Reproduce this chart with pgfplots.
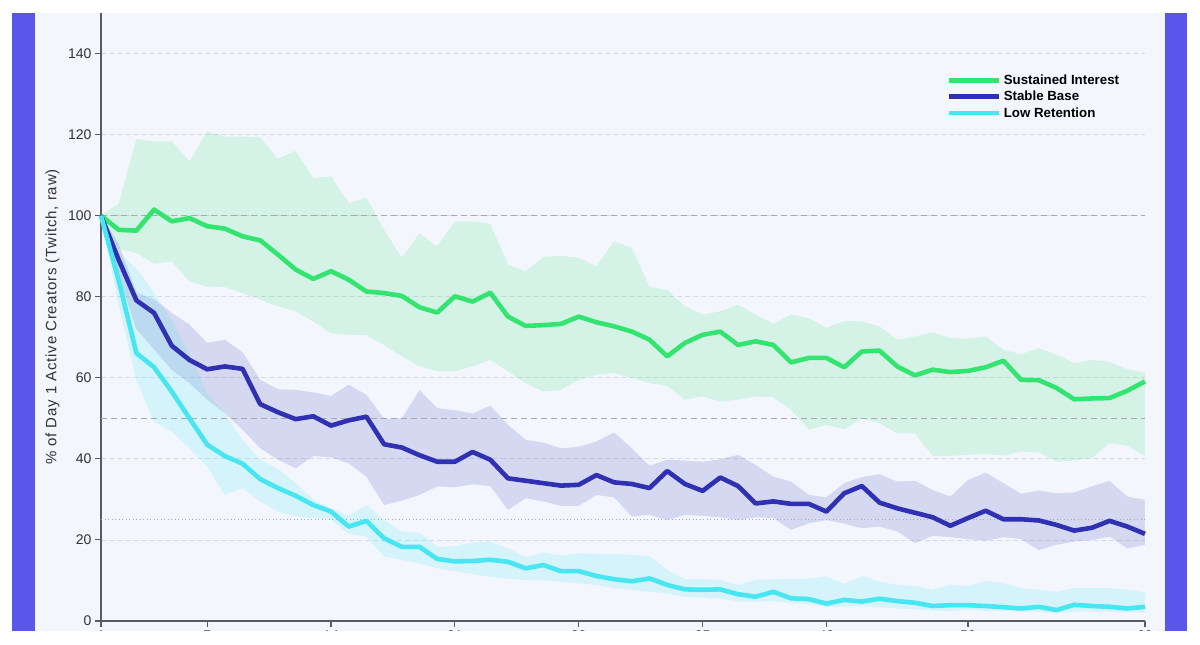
\documentclass[border=0pt]{standalone}
\usepackage{fontspec}
\setmainfont{Liberation Sans}
\usepackage{pgfplots}
\usepackage{pgfplotstable}
\pgfplotsset{compat=1.18}
\usepgfplotslibrary{fillbetween}

\definecolor{sideband}{RGB}{88,86,235}
\definecolor{plotbg}{RGB}{243,246,253}
\definecolor{sustained}{RGB}{52,228,112}
\definecolor{stable}{RGB}{48,48,178}
\definecolor{lowret}{RGB}{72,230,240}
\definecolor{gridc}{RGB}{214,218,230}
\definecolor{refc}{RGB}{168,170,178}
\definecolor{axisc}{RGB}{90,90,96}
\definecolor{labelc}{RGB}{50,50,56}

% day, then mean / upper / lower for each cohort (g = sustained, b = stable, c = low retention)
\pgfplotstableread{
d  gm    gu    gl    bm    bu    bl    cm    cu    cl
1  100   100   100   100   100   100   100   100   100
2  96.5  103.0 91.8  89.1  93.0  85.0  84.0  91.0  78.0
3  96.3  118.9 90.8  79.1  81.0  72.0  66.1  87.0  59.5
4  101.5 118.3 88.1  76.0  79.4  67.0  62.6  81.0  49.2
5  98.6  118.3 88.7  67.9  76.0  62.0  56.6  74.0  46.7
6  99.4  113.4 83.8  64.4  73.1  58.7  50.0  66.0  42.6
7  97.4  120.8 82.5  62.1  68.6  54.6  43.5  56.0  38.1
8  96.8  119.5 82.4  62.8  69.4  51.3  40.7  51.3  31.1
9  94.9  119.5 80.9  62.2  66.3  47.2  38.8  44.7  32.8
10 93.9  119.3 79.3  53.5  59.5  42.6  35.0  39.8  29.5
11 90.4  114.0 77.6  51.5  57.2  39.8  32.8  37.5  27.0
12 86.7  116.0 76.4  49.8  57.0  37.7  30.9  34.0  25.8
13 84.4  109.3 73.9  50.5  56.4  40.7  28.6  29.9  25.4
14 86.3  109.7 71.0  48.2  55.5  40.4  27.0  27.8  25.0
15 84.2  103.1 70.6  49.5  58.3  38.9  23.3  25.9  21.5
16 81.3  104.4 70.5  50.4  55.8  35.6  24.7  28.6  20.8
17 80.9  96.5  68.1  43.6  49.9  28.6  20.4  24.9  15.9
18 80.2  89.6  65.3  42.8  50.0  29.7  18.3  22.1  15.1
19 77.4  95.6  62.8  40.9  57.0  31.1  18.3  21.7  14.2
20 76.1  92.4  61.6  39.3  52.5  33.2  15.3  18.3  13.0
21 80.1  98.6  61.6  39.3  52.0  33.0  14.7  18.4  12.3
22 78.8  98.6  62.8  41.7  51.2  33.7  14.8  19.4  11.6
23 81.0  98.0  64.4  39.8  53.1  33.3  15.1  19.6  10.9
24 75.1  87.9  61.6  35.2  48.4  27.4  14.6  17.9  10.5
25 72.8  86.3  58.7  34.6  44.7  30.3  13.0  15.7  10.1
26 73.0  89.8  56.6  34.0  44.0  29.5  13.8  16.9  10.0
27 73.3  90.1  57.0  33.4  42.6  28.4  12.3  16.1  9.7
28 75.1  89.6  59.5  33.6  43.0  28.4  12.3  16.7  9.3
29 73.7  87.5  60.7  36.0  44.3  31.1  11.1  16.5  8.9
30 72.7  93.7  61.2  34.2  46.5  30.5  10.3  16.5  8.1
31 71.4  92.0  59.9  33.8  42.6  25.8  9.8   16.3  7.7
32 69.4  82.4  58.7  32.8  38.3  26.2  10.5  16.0  7.2
33 65.3  81.7  58.0  37.0  39.8  24.9  8.9   12.6  6.8
34 68.6  77.6  54.6  33.8  39.6  26.2  7.8   10.3  6.0
35 70.6  75.6  55.4  32.1  39.3  25.9  7.7   10.3  5.8
36 71.4  76.4  54.1  35.4  39.9  25.6  7.8   10.1  5.6
37 68.1  78.0  54.6  33.3  41.0  24.9  6.6   8.9   4.8
38 69.0  75.6  55.4  29.0  38.5  25.6  6.0   10.1  4.8
39 68.1  73.3  55.2  29.5  35.6  25.4  7.2   10.3  4.9
40 63.8  75.6  52.1  28.9  34.4  22.5  5.6   10.4  4.4
41 64.9  74.7  47.2  28.9  31.1  24.1  5.4   10.4  4.2
42 64.9  72.3  48.4  27.0  30.5  24.9  4.3   11.0  3.5
43 62.6  74.0  47.3  31.5  34.0  24.0  5.2   9.1   3.5
44 66.5  73.9  50.0  33.3  35.5  22.9  4.8   11.1  3.7
45 66.7  72.7  48.8  29.2  36.2  23.3  5.5   9.7   3.4
46 62.8  69.4  46.3  27.8  34.4  22.1  4.9   8.9   3.1
47 60.6  70.2  46.3  26.7  34.6  19.2  4.5   8.6   2.9
48 62.0  71.2  40.7  25.6  32.3  21.0  3.7   7.7   2.5
49 61.4  69.8  40.7  23.5  30.7  20.7  3.9   8.9   2.5
50 61.7  69.6  41.0  25.4  34.8  20.2  3.9   8.6   2.7
51 62.6  70.2  41.2  27.2  36.6  19.8  3.7   9.9   2.5
52 64.2  66.9  40.8  25.1  34.0  20.7  3.4   9.3   2.5
53 59.5  65.8  41.8  25.1  31.4  20.2  3.1   8.1   2.3
54 59.4  67.3  41.6  24.8  32.2  17.5  3.5   7.7   2.3
55 57.5  65.7  39.3  23.7  31.5  18.8  2.7   7.2   1.9
56 54.7  63.6  39.6  22.3  31.7  19.6  4.0   8.1   2.3
57 54.9  64.4  40.2  23.0  33.2  20.0  3.7   8.1   2.3
58 55.0  63.9  43.9  24.7  34.6  20.8  3.5   8.1   2.3
59 56.8  62.1  43.2  23.3  30.7  17.9  3.1   7.7   2.1
60 59.1  61.3  40.7  21.5  29.9  18.8  3.5   7.1   2.1
}\retention

\begin{document}
\begin{tikzpicture}
\begin{axis}[
  at={(101pt,24pt)}, anchor=south west,
  scale only axis, width=1044pt, height=608pt,
  xmin=1, xmax=60, ymin=0, ymax=150,
  clip=false,
  axis x line*=bottom, axis y line*=left,
  axis line style={-, draw=axisc, line width=1.1pt},
  xtick={1,7,14,21,28,35,42,50,60},
  ytick={0,20,...,140},
  tick align=outside, major tick length=6pt,
  tick style={draw=axisc, line width=1.1pt},
  /pgf/number format/assume math mode=true,
  ticklabel style={font=\fontsize{14}{14}\selectfont, text=labelc},
  ymajorgrids,
  grid style={draw=gridc, line width=0.8pt, dash pattern=on 5pt off 3pt},
  ylabel={\addfontfeatures{LetterSpace=5.5}\% of Day 1 Active Creators (Twitch, raw)},
  ylabel style={font=\fontsize{15}{15}\selectfont, text=labelc,
    at={(axis description cs:-0.0465,0.5)}, anchor=center, rotate=0},
  legend style={at={(axis description cs:0.8075,0.9055)}, anchor=north west,
    draw=none, fill=none, font=\bfseries\fontsize{13.3}{13.3}\selectfont,
    text=black, row sep=1.3pt},
  legend cell align=left,
  legend image code/.code={\path (0pt,0pt) -- (50pt,0pt);
    \draw[#1] (0pt,0pt) -- (42pt,0pt);},
]
% page, panel and side stripes, kept beneath the grid
\addplot[fill=white, draw=none, on layer=axis background, forget plot]
  coordinates {(-4.708,-5.921) (63.108,-5.921) (63.108,153.21) (-4.708,153.21)} -- cycle;
\addplot[fill=plotbg, draw=none, on layer=axis background, forget plot]
  coordinates {(-2.730,-2.467) (61.130,-2.467) (61.130,150) (-2.730,150)} -- cycle;
\addplot[fill=sideband, draw=none, on layer=axis background, forget plot]
  coordinates {(-4.030,-2.467) (-2.730,-2.467) (-2.730,150) (-4.030,150)} -- cycle;
\addplot[fill=sideband, draw=none, on layer=axis background, forget plot]
  coordinates {(61.130,-2.467) (62.373,-2.467) (62.373,150) (61.130,150)} -- cycle;

% reference levels
\addplot[refc, line width=1pt, dash pattern=on 6pt off 4pt, forget plot] coordinates {(1,100) (60,100)};
\addplot[refc, line width=1pt, dash pattern=on 6pt off 4pt, forget plot] coordinates {(1,50) (60,50)};
\addplot[refc, line width=1.1pt, dash pattern=on 1.3pt off 2.2pt, forget plot] coordinates {(1,25) (60,25)};

% spread bands
\addplot[draw=none, name path=GU, forget plot] table[x=d, y=gu]{\retention};
\addplot[draw=none, name path=GL, forget plot] table[x=d, y=gl]{\retention};
\addplot[fill=sustained, fill opacity=0.16, draw=none, forget plot] fill between[of=GU and GL];
\addplot[draw=none, name path=BU, forget plot] table[x=d, y=bu]{\retention};
\addplot[draw=none, name path=BL, forget plot] table[x=d, y=bl]{\retention};
\addplot[fill=stable, fill opacity=0.15, draw=none, forget plot] fill between[of=BU and BL];
\addplot[draw=none, name path=CU, forget plot] table[x=d, y=cu]{\retention};
\addplot[draw=none, name path=CL, forget plot] table[x=d, y=cl]{\retention};
\addplot[fill=lowret, fill opacity=0.18, draw=none, forget plot] fill between[of=CU and CL];

% cohort means
\addplot[sustained, line width=4.6pt, line join=round] table[x=d, y=gm]{\retention};
\addlegendentry{Sustained Interest}
\addplot[stable, line width=4.6pt, line join=round] table[x=d, y=bm]{\retention};
\addlegendentry{Stable Base}
\addplot[lowret, line width=4.6pt, line join=round] table[x=d, y=cm]{\retention};
\addlegendentry{Low Retention}
\end{axis}
% the frame is cut off just below the day labels
\fill[white] (0pt,0pt) rectangle (1200pt,14pt);
\pgfresetboundingbox
\path[use as bounding box] (0pt,0pt) rectangle (1200pt,645pt);
\end{tikzpicture}
\end{document}
